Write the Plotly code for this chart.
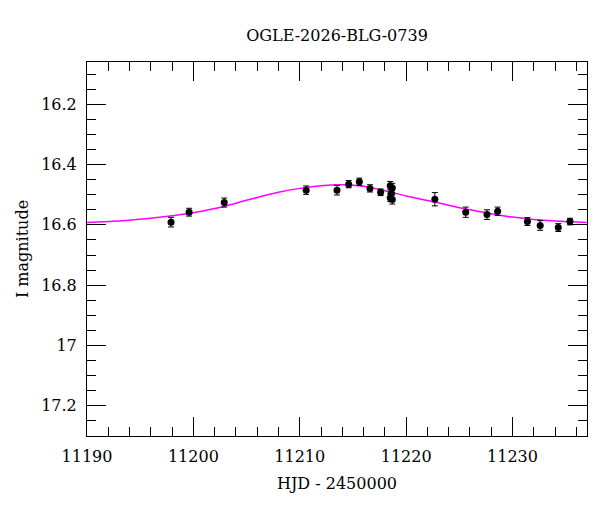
import plotly.graph_objects as go

# observed photometry (HJD - 2450000, I mag, error)
hjd = [11197.9, 11199.6, 11202.9, 11210.6, 11213.5, 11214.6, 11215.6,
       11216.6, 11217.6, 11218.5, 11218.7, 11218.6, 11218.5, 11218.7,
       11222.7, 11225.6, 11227.6, 11228.6, 11231.4, 11232.6, 11234.3,
       11235.4]
imag = [16.591, 16.558, 16.526, 16.485, 16.485, 16.465, 16.457,
        16.479, 16.492, 16.470, 16.478, 16.495, 16.510, 16.516,
        16.515, 16.558, 16.566, 16.555, 16.589, 16.602, 16.609,
        16.589]
ierr = [0.016, 0.013, 0.015, 0.014, 0.016, 0.012, 0.012,
        0.012, 0.011, 0.014, 0.016, 0.014, 0.013, 0.015,
        0.022, 0.017, 0.016, 0.014, 0.013, 0.016, 0.013,
        0.011]

# model curve
model_t = [11190, 11193, 11196, 11198, 11200, 11202, 11204, 11206, 11208,
           11210, 11212, 11214, 11216, 11218, 11220, 11222, 11224, 11226,
           11228, 11230, 11232, 11234, 11237]
model_m = [16.592, 16.587, 16.578, 16.570, 16.560, 16.546, 16.528, 16.509,
           16.492, 16.479, 16.470, 16.467, 16.472, 16.487, 16.504, 16.519,
           16.535, 16.550, 16.563, 16.574, 16.582, 16.587, 16.592]

FONT = "DejaVu Serif"

fig = go.Figure()

fig.add_trace(
    go.Scatter(
        x=model_t,
        y=model_m,
        mode="lines",
        line=dict(color="#ff00ff", width=1.5, shape="spline"),
        showlegend=False,
        hoverinfo="skip",
    )
)

fig.add_trace(
    go.Scatter(
        x=hjd,
        y=imag,
        mode="markers",
        marker=dict(color="black", size=7),
        error_y=dict(type="data", array=ierr, visible=True,
                     color="black", thickness=1, width=3),
        showlegend=False,
    )
)

axis_common = dict(
    showline=True,
    linecolor="black",
    linewidth=1,
    mirror="ticks",
    ticks="inside",
    ticklen=19,
    tickcolor="black",
    showgrid=False,
    zeroline=False,
    automargin=False,
    tickfont=dict(family=FONT, size=16, color="black"),
)

# page body adds an 8px offset, so the figure is 8px smaller each way
fig.update_layout(
    width=592,
    height=504,
    margin=dict(l=79, r=13, t=54, b=76, autoexpand=False),
    paper_bgcolor="white",
    plot_bgcolor="white",
    font=dict(family=FONT, color="black"),
    title=dict(
        text="OGLE-2026-BLG-0739",
        x=0.5,
        xref="paper",
        y=1 - 27 / 504,
        yanchor="middle",
        font=dict(family=FONT, size=16, color="black"),
    ),
    xaxis=dict(
        axis_common,
        range=[11190, 11237],
        dtick=10,
        tick0=11190,
        tickformat="d",
        ticklabelstandoff=6,
        minor=dict(dtick=2, ticks="inside", ticklen=9, tickcolor="black"),
        title=dict(text="HJD - 2450000", standoff=12,
                   font=dict(family=FONT, size=16, color="black")),
    ),
    yaxis=dict(
        axis_common,
        range=[17.30, 16.06],
        dtick=0.2,
        tick0=16.2,
        ticklabelstandoff=6,
        minor=dict(dtick=0.05, ticks="inside", ticklen=9, tickcolor="black"),
        title=dict(text="I magnitude", standoff=8,
                   font=dict(family=FONT, size=16, color="black")),
    ),
)

fig.write_html("out.html")
